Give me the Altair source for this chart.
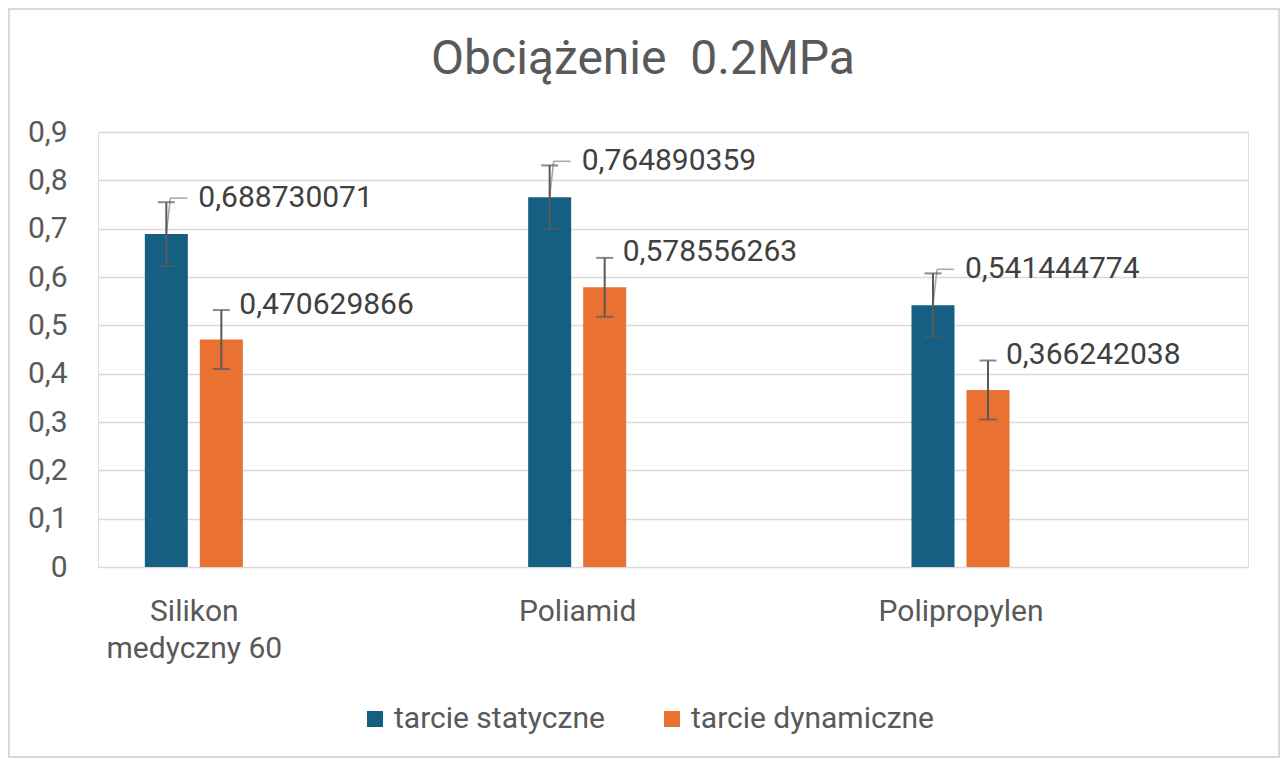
import json
import altair as alt
import pandas as pd

# ---- data ----
categories = ["Silikon\nmedyczny 60", "Poliamid", "Polipropylen"]
series = ["tarcie statyczne", "tarcie dynamiczne"]
static_vals = [0.688730071, 0.764890359, 0.541444774]
dynamic_vals = [0.470629866, 0.578556263, 0.366242038]
static_err = [0.066, 0.066, 0.066]
dynamic_err = [0.061, 0.061, 0.061]
y_ticks = [0, 0.1, 0.2, 0.3, 0.4, 0.5, 0.6, 0.7, 0.8, 0.9]
colors = ["#156082", "#E97132"]
title_text = "Obciążenie \u00a00.2MPa"

rows = []
for ci, cat in enumerate(categories):
    for si, (vals, errs) in enumerate([(static_vals, static_err), (dynamic_vals, dynamic_err)]):
        rows.append({"cat_idx": ci, "ser_idx": si, "category": cat,
                     "series": series[si], "value": vals[ci], "err": errs[ci]})
df = pd.DataFrame(rows)

TEXT = "#595959"
LABEL = "#404040"
GRID = "#D9D9D9"
FONT = "Roboto"
W, H = 1150, 435

base = alt.Chart(df).transform_calculate(
    xpos="datum.cat_idx + 0.25 + (datum.ser_idx - 0.5) * 0.1435",
    lo="datum.value - datum.err",
    hi="datum.value + datum.err",
    lab="replace(format(datum.value, '.9f'), '.', ',')",
)

x_scale = alt.Scale(domain=[0, 3], nice=False, zero=False, padding=0)
cat_lines = [c.split("\n") for c in categories]
x_enc = alt.X("xpos:Q", scale=x_scale,
              axis=alt.Axis(values=[0.25, 1.25, 2.25],
                            labelExpr=json.dumps(cat_lines, ensure_ascii=False) + "[floor(datum.value)]",
                            title=None, grid=False, ticks=False, tickSize=0, domain=False,
                            labelFontSize=30, labelColor=TEXT, labelFont=FONT,
                            labelPadding=29, labelLineHeight=37, labelAlign="center"))
y_scale = alt.Scale(domain=[0, 0.9], nice=False, padding=0)
y_enc = alt.Y("value:Q", scale=y_scale,
              axis=alt.Axis(values=y_ticks, title=None, grid=True, gridColor=GRID, gridWidth=1.5,
                            ticks=False, tickSize=0, domain=False,
                            labelExpr="datum.value == 0 ? '0' : replace(format(datum.value, '.1f'), '.', ',')",
                            labelFontSize=30, labelColor=TEXT, labelFont=FONT, labelPadding=31))

bars = base.mark_bar(size=43, orient="vertical").encode(
    x=x_enc,
    y=y_enc,
    y2=alt.datum(0),
    color=alt.Color("series:N", scale=alt.Scale(domain=series, range=colors),
                    sort=series,
                    legend=alt.Legend(title=None, orient="none", direction="horizontal",
                                      legendX=262, legendY=572, symbolType="square",
                                      symbolSize=256, symbolStrokeWidth=0,
                                      labelFontSize=30, labelColor=TEXT, labelFont=FONT,
                                      labelLimit=0, labelOffset=4, columnPadding=52, padding=0)),
)

static_only = "datum.ser_idx == 0"
lead_diag = base.transform_filter(static_only).mark_rule(
    color="#A6A6A6", strokeWidth=1.5, x2Offset=4, y2Offset=-36).encode(
    x="xpos:Q", x2="xpos:Q", y="value:Q", y2="value:Q")
lead_horiz = base.transform_filter(static_only).mark_rule(
    color="#A6A6A6", strokeWidth=1.5, xOffset=4, x2Offset=21, yOffset=-36, y2Offset=-36).encode(
    x="xpos:Q", x2="xpos:Q", y="value:Q", y2="value:Q")

err_rule = base.mark_rule(color="#595959", strokeWidth=2).encode(
    x="xpos:Q", y="lo:Q", y2="hi:Q")
cap_lo = base.mark_tick(orient="horizontal", size=17, thickness=2, color="#595959").encode(
    x="xpos:Q", y="lo:Q")
cap_hi = base.mark_tick(orient="horizontal", size=17, thickness=2, color="#595959").encode(
    x="xpos:Q", y="hi:Q")

lab_static = base.transform_filter(static_only).mark_text(
    align="left", baseline="middle", dx=32, dy=-36, fontSize=30, font=FONT, color=LABEL).encode(
    x="xpos:Q", y="value:Q", text="lab:N")
lab_dynamic = base.transform_filter("datum.ser_idx == 1").mark_text(
    align="left", baseline="middle", dx=18, dy=-35, fontSize=30, font=FONT, color=LABEL).encode(
    x="xpos:Q", y="value:Q", text="lab:N")

frame = alt.Chart(alt.Data(values=[{"a": 1}])).mark_rect(
    fill=None, stroke=GRID, strokeWidth=2).encode(
    x=alt.value(-89), x2=alt.value(W + 31), y=alt.value(-123), y2=alt.value(H + 190))

chart = alt.layer(frame, bars, lead_diag, lead_horiz, err_rule, cap_lo, cap_hi,
                  lab_static, lab_dynamic).resolve_scale(x="shared", y="shared").properties(
    width=W, height=H,
    title=alt.TitleParams(title_text, fontSize=48, font=FONT, fontWeight="normal",
                          color=TEXT, anchor="middle", frame="group", dx=-30, offset=-114,
                          baseline="alphabetic"),
    autosize=alt.AutoSizeParams(type="none"),
    padding={"left": 90, "top": 124, "right": 32, "bottom": 191},
    background="white",
).configure_view(stroke=None).configure(font=FONT)

chart.save("out.html", embed_options={"renderer": "svg", "actions": False})
